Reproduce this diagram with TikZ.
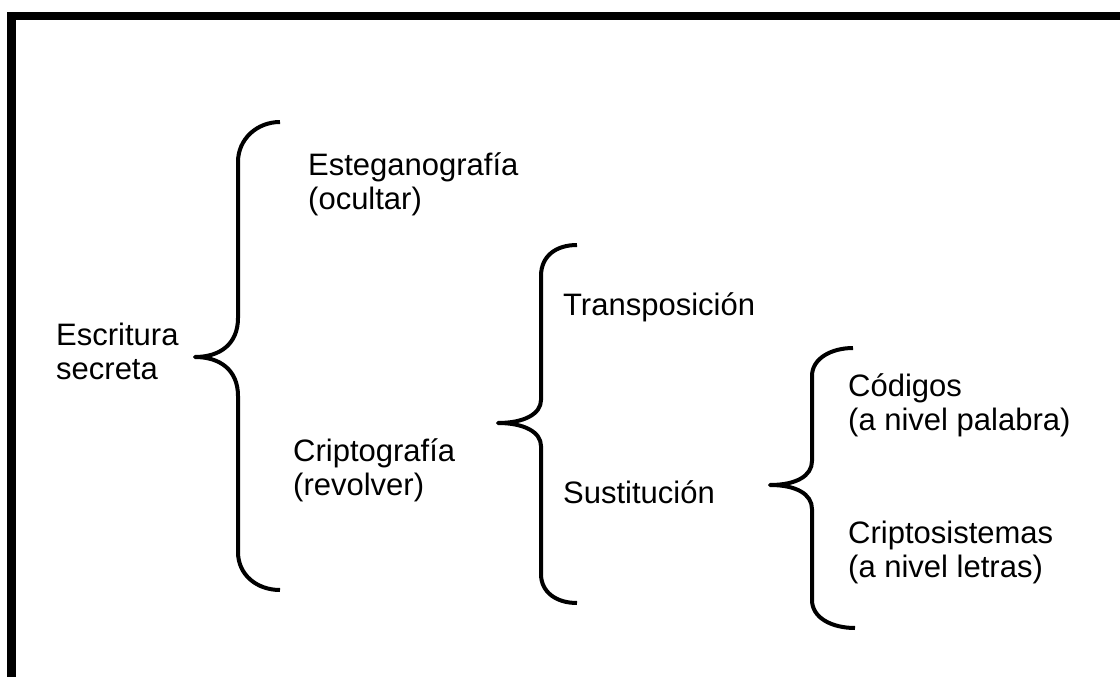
\documentclass[tikz,border=0pt]{standalone}
\usepackage{fontspec}
\setmainfont{Liberation Sans}
\newcommand{\twolines}[2]{\begin{tabular}[t]{@{}l@{}}#1\\#2\end{tabular}}
\begin{document}
\begin{tikzpicture}[x=1pt,y=-1pt,
  label/.style={anchor=base west,inner sep=0pt,font=\fontsize{31}{34.5}\selectfont},
  brace/.style={line width=4pt,line cap=butt,line join=round},
  frame/.style={line width=8.5pt,line join=miter}]
\useasboundingbox (0,0) rectangle (1120,677);
% outer frame (top and left edges)
\draw[frame] (11.25,677) -- (11.25,16.25) -- (1120,16.25);

% texts
\node[label] (root) at (56,345) {\twolines{Escritura}{secreta}};
\node[label] (steg) at (308,175) {\twolines{Esteganografía}{(ocultar)}};
\node[label] (crip) at (293,461) {\twolines{Criptografía}{(revolver)}};
\node[label] (trans) at (563,315) {Transposición};
\node[label] (sust) at (563,503) {Sustitución};
\node[label] (cod) at (848,396) {\twolines{Códigos}{(a nivel palabra)}};
\node[label] (cs) at (848,543) {\twolines{Criptosistemas}{(a nivel letras)}};

% first brace: Escritura secreta
\draw[brace] (280,122) .. controls (257,122) and (238,139) .. (238,162)
  -- (238,318) .. controls (238,344) and (220,357) .. (195,357)
  .. controls (220,357) and (238,370) .. (238,396)
  -- (238,552) .. controls (238,575) and (257,590) .. (280,590);

% second brace: Criptografía
\draw[brace] (577,245) .. controls (556,245) and (541,256) .. (541,276)
  -- (541,400) .. controls (541,414) and (524,423) .. (498,423)
  .. controls (524,423) and (541,432) .. (541,446)
  -- (541,574) .. controls (541,592) and (556,603) .. (577,603);

% third brace: Sustitución
\draw[brace] (853,348) .. controls (832,348) and (812,358) .. (812,376)
  -- (812,461) .. controls (812,476) and (796,485) .. (770,485)
  .. controls (796,485) and (812,494) .. (812,509)
  -- (812,600) .. controls (812,618) and (832,628) .. (855,628);
\end{tikzpicture}
\end{document}
